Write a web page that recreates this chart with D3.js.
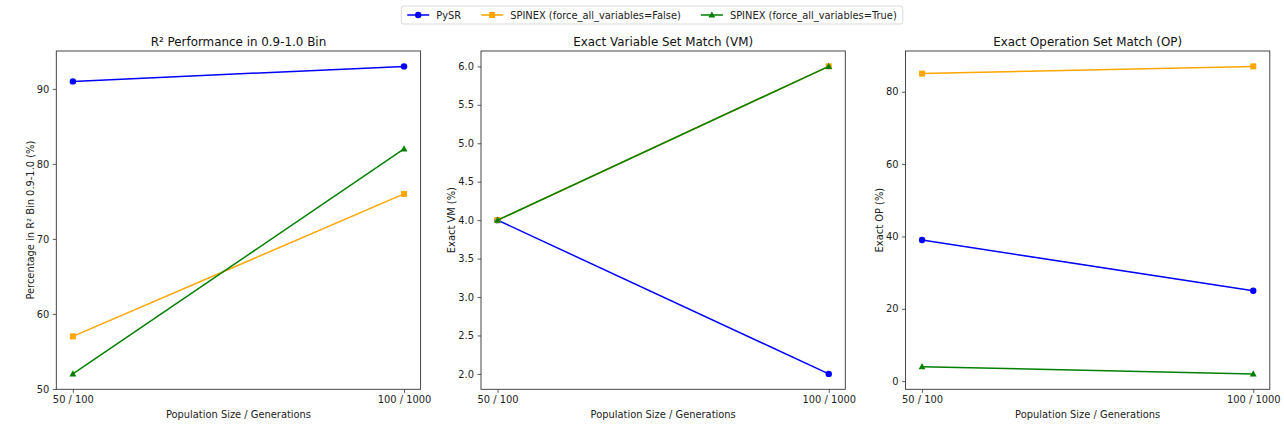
<!DOCTYPE html>
<html>
<head>
<meta charset="utf-8">
<script src="https://cdn.jsdelivr.net/npm/d3@7"></script>
<style>
  body { margin: 0; background: #fff; }
  svg { display: block; font-family: "DejaVu Sans", sans-serif; }
</style>
</head>
<body>
<div id="chart"></div>
<script>
"use strict";

// categories on the x axis
const categories = ["50 / 100", "100 / 1000"];

// series names
const seriesNames = ["PySR", "SPINEX (force_all_variables=False)", "SPINEX (force_all_variables=True)"];

// R² 0.9-1.0 bin percentages
const r2PySR = [91, 93];
const r2SpinexFalse = [57, 76];
const r2SpinexTrue = [52, 82];

// exact variable set match (%)
const vmPySR = [4, 2];
const vmSpinexFalse = [4, 6];
const vmSpinexTrue = [4, 6];

// exact operation set match (%)
const opPySR = [39, 25];
const opSpinexFalse = [85, 87];
const opSpinexTrue = [4, 2];

// tick labels
const r2Ticks = [50, 60, 70, 80, 90];
const vmTicks = [2.0, 2.5, 3.0, 3.5, 4.0, 4.5, 5.0, 5.5, 6.0];
const opTicks = [0, 20, 40, 60, 80];

const colors = ["#0000ff", "#ffa500", "#008000"];
const markers = ["circle", "square", "triangle"];

const panels = [
  { title: "R² Performance in 0.9-1.0 Bin", ylabel: "Percentage in R² Bin 0.9-1.0 (%)",
    series: [r2PySR, r2SpinexFalse, r2SpinexTrue], ticks: r2Ticks, fmt: d3.format("d"), left: 56.3 },
  { title: "Exact Variable Set Match (VM)", ylabel: "Exact VM (%)",
    series: [vmPySR, vmSpinexFalse, vmSpinexTrue], ticks: vmTicks, fmt: d3.format(".1f"), left: 481 },
  { title: "Exact Operation Set Match (OP)", ylabel: "Exact OP (%)",
    series: [opPySR, opSpinexFalse, opSpinexTrue], ticks: opTicks, fmt: d3.format("d"), left: 905.5 }
];

const W = 1284, H = 430;
const panelW = 364.3, plotTop = 51, plotBottom = 389.3;

const svg = d3.select("#chart").append("svg")
  .attr("width", W)
  .attr("height", H);

function drawMarker(g, type, x, y, color) {
  if (type === "circle") {
    g.append("circle").attr("cx", x).attr("cy", y).attr("r", 3.2).attr("fill", color);
  } else if (type === "square") {
    g.append("rect").attr("x", x - 3).attr("y", y - 3).attr("width", 6).attr("height", 6).attr("fill", color);
  } else {
    g.append("path")
      .attr("d", `M${x},${y - 3.6}L${x + 3.4},${y + 2.6}L${x - 3.4},${y + 2.6}Z`)
      .attr("fill", color);
  }
}

panels.forEach(function(p) {
  let g = svg.append("g");

  // matplotlib-like 5% margins
  let x = d3.scaleLinear().domain([-0.05, 1.05]).range([p.left, p.left + panelW]);
  let all = p.series.flat();
  let lo = d3.min(all), hi = d3.max(all), pad = (hi - lo) * 0.05;
  let y = d3.scaleLinear().domain([lo - pad, hi + pad]).range([plotBottom, plotTop]);

  // x axis
  let xAxis = d3.axisBottom(x)
    .tickValues([0, 1])
    .tickFormat(i => categories[i])
    .tickSizeOuter(0)
    .tickSize(3.5)
    .tickPadding(3.5);
  let gx = g.append("g").attr("transform", `translate(0,${plotBottom})`).call(xAxis);
  gx.select(".domain").remove();

  // y axis
  let yAxis = d3.axisLeft(y)
    .tickValues(p.ticks)
    .tickFormat(p.fmt)
    .tickSizeOuter(0)
    .tickSize(3.5)
    .tickPadding(3.5);
  let gy = g.append("g").attr("transform", `translate(${p.left},0)`).call(yAxis);
  gy.select(".domain").remove();

  g.selectAll(".tick line").attr("stroke", "#333").attr("stroke-width", 0.8);
  g.selectAll(".tick text")
    .attr("font-family", "DejaVu Sans, sans-serif")
    .attr("font-size", 9.9)
    .attr("fill", "#222");

  // lines and markers
  p.series.forEach(function(vals, si) {
    let line = d3.line().x((d, i) => x(i)).y(d => y(d));
    g.append("path")
      .attr("d", line(vals))
      .attr("fill", "none")
      .attr("stroke", colors[si])
      .attr("stroke-width", 1.5);
    vals.forEach(function(v, i) {
      drawMarker(g, markers[si], x(i), y(v), colors[si]);
    });
  });

  // frame
  g.append("rect")
    .attr("x", p.left)
    .attr("y", plotTop)
    .attr("width", panelW)
    .attr("height", plotBottom - plotTop)
    .attr("fill", "none")
    .attr("stroke", "#333")
    .attr("stroke-width", 0.9);

  // title
  g.append("text")
    .attr("x", p.left + panelW / 2)
    .attr("y", 46)
    .attr("text-anchor", "middle")
    .attr("font-size", 11.9)
    .attr("fill", "#111")
    .text(p.title);

  // x label
  g.append("text")
    .attr("x", p.left + panelW / 2)
    .attr("y", 418)
    .attr("text-anchor", "middle")
    .attr("font-size", 9.9)
    .attr("fill", "#222")
    .text("Population Size / Generations");

  // y label, placed left of the tick labels
  let bb = gy.node().getBBox();
  g.append("text")
    .attr("transform", `translate(${p.left + bb.x - 3},${(plotTop + plotBottom) / 2}) rotate(-90)`)
    .attr("text-anchor", "middle")
    .attr("font-size", 9.9)
    .attr("fill", "#222")
    .text(p.ylabel);
});

// legend
let lg = svg.append("g");
let cx = 0;
seriesNames.forEach(function(name, i) {
  let it = lg.append("g").attr("transform", `translate(${cx},0)`);
  it.append("line")
    .attr("x1", 0).attr("x2", 22)
    .attr("y1", 0).attr("y2", 0)
    .attr("stroke", colors[i])
    .attr("stroke-width", 1.5);
  drawMarker(it, markers[i], 11, 0, colors[i]);
  let t = it.append("text")
    .attr("x", 29)
    .attr("y", 3.5)
    .attr("font-size", 9.9)
    .attr("fill", "#222")
    .text(name);
  cx += 29 + t.node().getComputedTextLength() + 20;
});
let legendW = cx - 20;
let boxPad = 5;
let lx = W / 2 + 10 - legendW / 2;
lg.attr("transform", `translate(${lx},15)`);
lg.insert("rect", ":first-child")
  .attr("x", -boxPad - 1)
  .attr("y", -9)
  .attr("width", legendW + 2 * boxPad + 2)
  .attr("height", 18)
  .attr("rx", 2.5)
  .attr("fill", "#fff")
  .attr("stroke", "#d0d0d0")
  .attr("stroke-width", 0.8);
</script>
</body>
</html>
